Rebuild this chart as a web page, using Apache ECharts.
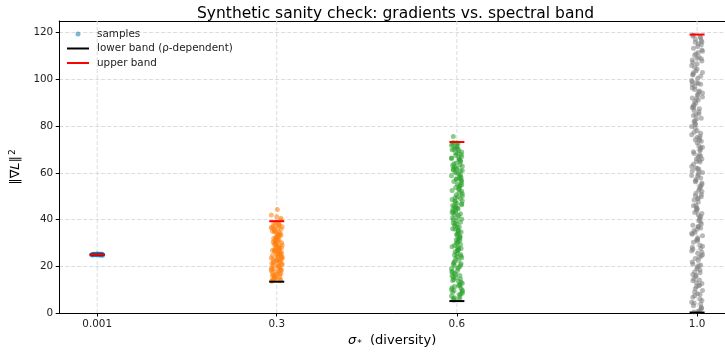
<!DOCTYPE html>
<html>
<head>
<meta charset="utf-8">
<script src="https://cdn.jsdelivr.net/npm/echarts@6/dist/echarts.min.js"></script>
<style>html,body{margin:0;padding:0;background:#fff;}#c{width:725px;height:353px;}</style>
</head>
<body>
<div id="c"></div>
<script>
// ---- data ----
const sigmas = [0.001, 0.3, 0.6, 1.0];
const xTickLabels = ['0.001', '0.3', '0.6', '1.0'];
const yTicks = [0, 20, 40, 60, 80, 100, 120];
const lowerBand = [25.0, 13.4, 5.1, 0.2];
const upperBand = [25.0, 39.3, 73.2, 119.2];

const samples001 = [25.1, 24.9, 25.0, 25.2, 24.8, 25.0, 25.1, 24.9, 25.3, 24.7,
  25.0, 25.2, 24.9, 25.1, 24.8, 25.0, 25.2, 24.9, 25.0, 25.1,
  24.8, 25.1, 25.0, 24.9, 25.2];

const samples03 = [14.2, 37.5, 22.8, 30.1, 18.6, 26.4, 33.9, 15.7, 28.3, 21.0,
  35.2, 19.4, 24.7, 31.6, 16.9, 38.6, 27.2, 23.5, 13.8, 29.9,
  34.5, 20.3, 25.8, 17.5, 32.7, 36.4, 22.1, 28.9, 14.9, 39.8,
  26.9, 19.9, 31.0, 24.0, 16.2, 33.1, 21.7, 37.0, 27.8, 18.1,
  30.6, 23.0, 35.9, 15.2, 25.3, 29.4, 20.8, 34.0, 17.0, 38.1,
  26.1, 32.2, 22.4, 13.6, 28.5, 36.9, 19.0, 24.4, 30.9, 40.6,
  16.5, 27.5, 21.4, 33.6, 25.0, 42.0, 18.8, 35.6, 23.9, 44.3,
  14.6, 31.3, 15.9, 29.1, 21.9, 36.1, 18.3, 26.7, 32.4, 13.9,
  24.9, 38.9, 20.0, 30.4, 16.7, 27.9, 34.8, 22.6, 19.2, 37.8,
  25.6, 31.9, 14.4, 28.0, 23.3, 35.0, 17.8, 41.2, 26.3, 33.3,
  21.2, 15.5, 29.6, 24.1, 37.2, 18.4, 32.9, 27.0, 20.6, 36.6,
  22.9, 30.0];

const samples06 = [6.2, 52.8, 31.4, 68.9, 17.3, 44.6, 59.1, 24.8, 71.5, 9.7,
  38.2, 63.4, 13.9, 49.7, 27.6, 56.3, 35.0, 66.1, 20.4, 42.9,
  7.8, 61.2, 46.3, 29.9, 70.2, 15.8, 54.5, 33.7, 11.3, 58.0,
  40.8, 22.6, 67.4, 48.1, 5.6, 36.5, 64.7, 26.2, 51.4, 18.9,
  72.6, 43.5, 10.5, 57.2, 31.0, 62.5, 23.7, 47.0, 8.9, 69.5,
  38.9, 16.6, 55.1, 28.4, 65.8, 12.7, 45.5, 34.3, 60.4, 21.1,
  50.6, 6.9, 73.0, 41.7, 25.5, 58.8, 14.6, 37.3, 67.0, 30.2,
  53.7, 19.7, 44.1, 9.2, 63.9, 27.1, 49.0, 35.8, 71.0, 17.9,
  56.9, 39.5, 11.9, 61.7, 32.6, 46.8, 22.0, 68.3, 7.3, 54.0,
  26.9, 42.2, 65.2, 15.1, 50.1, 36.1, 59.6, 24.1, 70.7, 13.2,
  48.6, 33.0, 62.0, 19.2, 75.6, 40.2, 57.7, 28.9, 45.0, 10.1,
  8.1, 43.8, 66.7, 21.6, 55.8, 33.4, 72.1, 12.2, 47.6, 61.0,
  28.0, 39.9, 5.9, 64.2, 52.1, 17.0, 35.4, 69.9, 25.0, 44.9,
  58.4, 10.8, 31.7, 67.8, 49.3, 20.9, 62.8, 37.9, 14.3, 53.2,
  71.8, 29.3, 41.0, 6.5, 56.5, 23.3, 65.6, 46.0, 16.1, 59.9,
  34.7, 9.6, 68.6, 51.0, 26.6, 43.0, 13.6, 60.9, 38.5, 72.9,
  20.1, 54.8, 30.6, 66.4, 11.6, 47.9, 24.4, 57.5, 36.8, 63.1,
  18.2, 42.5, 70.1, 27.8, 52.4, 8.5, 45.8, 32.1, 61.6, 15.4];

const samples10 = [3.1, 87.4, 45.2, 112.6, 21.8, 66.9, 101.3, 34.5, 78.0, 9.6,
  56.2, 118.4, 27.3, 93.1, 49.8, 14.7, 71.6, 105.9, 38.8, 62.0,
  0.9, 84.5, 116.0, 31.2, 59.3, 97.7, 18.4, 75.1, 43.0, 108.8,
  6.7, 52.6, 89.9, 24.9, 68.3, 114.1, 36.4, 80.6, 12.0, 99.5,
  47.5, 63.7, 1.8, 91.8, 29.0, 110.3, 55.0, 72.9, 16.5, 85.2,
  41.3, 103.6, 8.2, 60.8, 95.0, 33.1, 77.4, 22.6, 117.2, 50.7,
  11.3, 69.5, 88.7, 39.6, 106.7, 4.6, 57.8, 82.3, 26.0, 100.4,
  46.1, 65.4, 13.8, 92.5, 35.3, 111.5, 53.9, 74.2, 19.7, 96.3,
  2.5, 43.9, 86.1, 30.3, 64.6, 107.9, 7.4, 58.5, 79.8, 23.9,
  115.3, 48.4, 70.7, 15.6, 94.2, 37.6, 61.5, 104.5, 10.4, 83.4,
  28.1, 54.4, 98.6, 42.1, 119.0, 5.3, 67.6, 90.6, 32.2, 76.3,
  20.5, 51.3, 109.6, 0.4, 73.5, 44.7, 102.2, 17.2, 81.1, 60.1,
  25.6, 113.3, 40.4, 66.0, 12.6, 97.0, 36.9, 88.0, 3.9, 57.1,
  7.9, 92.0, 49.1, 114.8, 23.3, 69.0, 103.0, 35.9, 81.9, 11.7,
  58.9, 117.8, 30.8, 95.7, 52.0, 16.0, 73.8, 107.2, 40.9, 64.9,
  2.0, 86.7, 111.0, 28.6, 61.9, 99.0, 20.2, 77.0, 45.9, 109.1,
  9.0, 55.7, 91.2, 26.5, 70.0, 115.9, 38.1, 83.0, 14.1, 101.9,
  48.9, 67.2, 4.3, 94.6, 33.7, 112.0, 56.6, 75.7, 18.9, 87.9,
  42.6, 105.2, 0.7, 62.7, 97.9, 31.7, 79.2, 24.4, 118.6, 53.2,
  13.0, 71.0, 89.2, 37.0, 108.3, 6.0, 60.4, 84.9, 27.6, 102.8,
  44.3, 65.9, 17.7, 93.6, 34.0, 116.6, 50.2, 74.8, 21.0, 98.2];

// horizontal jitter of each sample around its sigma
const jitter = [-0.006, 0.004, -0.001, 0.008, -0.008, 0.002, 0.006, -0.004, 0.000, 0.009,
  -0.003, 0.005, -0.007, 0.001, 0.007, -0.005, 0.003, -0.009, 0.006, -0.002,
  0.004, -0.006, 0.008, -0.001, 0.002, -0.008, 0.005, 0.000, -0.004, 0.007,
  -0.007, 0.003, -0.002, 0.009, -0.005, 0.001, 0.006, -0.003, 0.004, -0.009,
  0.002, -0.006, 0.007, -0.001, 0.005, -0.004, 0.008, 0.000, -0.007, 0.003,
  0.006, -0.002, 0.001, -0.008, 0.004, 0.009, -0.005, 0.002, -0.003, 0.007,
  -0.001, 0.005, -0.006, 0.003, 0.000, -0.009, 0.006, -0.004, 0.008, 0.001,
  -0.002, 0.004, -0.007, 0.009, -0.005, 0.002, 0.006, -0.003, 0.000, -0.008,
  0.007, -0.001, 0.003, -0.006, 0.005, 0.008, -0.004, 0.001, -0.009, 0.004,
  0.002, -0.005, 0.006, -0.002, 0.009, -0.007, 0.003, 0.000, -0.003, 0.007,
  -0.008, 0.005, -0.001, 0.002, -0.006, 0.008, 0.004, -0.004, 0.001, -0.009,
  0.006, -0.002, 0.003, -0.005, 0.007, 0.000, -0.007, 0.005, -0.003, 0.009,
  0.001, -0.006, 0.004, -0.001, 0.008, -0.004, 0.002, -0.008, 0.006, -0.002,
  0.005, -0.008, 0.002, 0.007, -0.003, -0.006, 0.009, 0.000, -0.005, 0.003,
  -0.009, 0.006, 0.001, -0.004, 0.008, -0.002, 0.004, -0.007, 0.005, -0.001,
  0.007, -0.005, -0.002, 0.009, 0.001, -0.008, 0.003, 0.006, -0.006, 0.000,
  -0.004, 0.008, 0.002, -0.009, 0.005, -0.003, 0.007, -0.001, 0.004, -0.007,
  0.001, 0.006, -0.005, 0.003, -0.008, 0.009, -0.002, 0.005, 0.000, -0.006,
  0.008, -0.004, 0.002, -0.009, 0.006, 0.001, -0.003, 0.007, -0.007, 0.004,
  -0.001, 0.009, -0.005, 0.002, -0.008, 0.005, 0.003, -0.002, 0.006, -0.006,
  0.000, 0.008, -0.004, 0.001, -0.009, 0.007, -0.003, 0.004, -0.007, 0.002];

const sampleGroups = [samples001, samples03, samples06, samples10];
const groupColors = ['#1f77b4', '#ff7f0e', '#2ca02c', '#7f7f7f'];

// ---- chart ----
const FONT = 'DejaVu Sans';
const xMin = -0.0622, xMax = 1.0465, yMin = 0, yMax = 125;
const bandHalf = 0.0125;
const gridLine = { color: '#dcdcdc', width: 1, type: [4, 2] };

const series = [];
// vertical grid lines at the x ticks
sigmas.forEach(s => {
  series.push({
    type: 'line', silent: true, z: 0, symbol: 'none',
    lineStyle: gridLine, itemStyle: { color: gridLine.color },
    data: [[s, yMin], [s, yMax]]
  });
});
sampleGroups.forEach((ys, g) => {
  series.push({
    type: 'scatter', name: 'samples', z: 2,
    symbolSize: 5,
    itemStyle: { color: groupColors[g], opacity: 0.55 },
    data: ys.map((y, i) => [sigmas[g] + jitter[i], y])
  });
});
sigmas.forEach((s, g) => {
  series.push({
    type: 'line', name: 'lower band (ρ-dependent)', z: 3, symbol: 'none',
    lineStyle: { color: '#000', width: 2 }, itemStyle: { color: '#000' },
    data: [[s - bandHalf, lowerBand[g]], [s + bandHalf, lowerBand[g]]]
  });
});
sigmas.forEach((s, g) => {
  series.push({
    type: 'line', name: 'upper band', z: 4, symbol: 'none',
    lineStyle: { color: '#ff0000', width: 2 }, itemStyle: { color: '#ff0000' },
    data: [[s - bandHalf, upperBand[g]], [s + bandHalf, upperBand[g]]]
  });
});

const legendText = { fontFamily: FONT, fontSize: 10.4, color: '#222', padding: [0, 0, 0, 3] };
const chart = echarts.init(document.getElementById('c'), null, { renderer: 'canvas' });
chart.setOption({
  animation: false,
  backgroundColor: '#fff',
  textStyle: { fontFamily: FONT },
  title: {
    text: 'Synthetic sanity check: gradients vs. spectral band',
    left: 192, top: 1, textAlign: 'left',
    textStyle: { fontFamily: FONT, fontSize: 15.5, fontWeight: 'normal', color: '#000' }
  },
  legend: [
    {
      data: [{ name: 'samples', icon: 'circle' }],
      left: 75.5, top: 29, orient: 'vertical',
      itemWidth: 5, itemHeight: 5, padding: 0,
      textStyle: { fontFamily: FONT, fontSize: 10.4, color: '#222', padding: [0, 0, 0, 11.5] },
      selectedMode: false
    },
    {
      data: [{ name: 'lower band (ρ-dependent)', icon: 'rect' }],
      left: 67, top: 43.5, orient: 'vertical', symbolKeepAspect: false,
      itemWidth: 22, itemHeight: 2, padding: 0,
      textStyle: legendText, selectedMode: false
    },
    {
      data: [{ name: 'upper band', icon: 'rect' }],
      left: 67, top: 58, orient: 'vertical', symbolKeepAspect: false,
      itemWidth: 22, itemHeight: 2, padding: 0,
      textStyle: legendText, selectedMode: false
    }
  ],
  grid: { left: 58, top: 21, right: 0, height: 293 },
  xAxis: [{
    type: 'value', min: xMin, max: xMax,
    name: '{s|σ}{st|*}{n|  (diversity)}',
    nameLocation: 'middle', nameGap: 20,
    nameTextStyle: {
      rich: {
        s: { fontFamily: FONT, fontSize: 13, fontStyle: 'italic', color: '#000' },
        st: { fontFamily: FONT, fontSize: 9, color: '#000', padding: [6, 0, 0, 1] },
        n: { fontFamily: FONT, fontSize: 13, color: '#000' }
      }
    },
    axisLine: { show: true, onZero: false, lineStyle: { color: '#000', width: 1 } },
    axisTick: { show: true, length: 3.5, customValues: sigmas, lineStyle: { color: '#000' } },
    axisLabel: {
      customValues: sigmas, margin: 6,
      fontFamily: FONT, fontSize: 10.4, color: '#222',
      formatter: v => {
        const i = sigmas.findIndex(s => Math.abs(s - v) < 1e-9);
        return i >= 0 ? xTickLabels[i] : '';
      }
    },
    splitLine: { show: false }
  }, {
    type: 'value', min: xMin, max: xMax, position: 'top',
    axisLine: { show: true, onZero: false, lineStyle: { color: '#000', width: 1 } },
    axisTick: { show: false }, axisLabel: { show: false }, splitLine: { show: false }
  }],
  yAxis: {
    type: 'value', min: yMin, max: yMax, interval: 20, position: 'left',
    name: '{n|‖∇}{i|L}{n|‖}{sup|2}',
    nameLocation: 'middle', nameGap: 34, nameRotate: 90,
    nameTextStyle: {
      rich: {
        n: { fontFamily: FONT, fontSize: 13, color: '#000' },
        i: { fontFamily: FONT, fontSize: 13, fontStyle: 'italic', color: '#000' },
        sup: { fontFamily: FONT, fontSize: 9, color: '#000', padding: [0, 0, 7, 1] }
      }
    },
    axisLine: { show: true, onZero: false, lineStyle: { color: '#000', width: 1 } },
    axisTick: { show: true, length: 3.5, customValues: yTicks, lineStyle: { color: '#000' } },
    axisLabel: { customValues: yTicks, margin: 6, fontFamily: FONT, fontSize: 10.4, color: '#222' },
    splitLine: { show: true, lineStyle: gridLine }
  },
  series: series
});
</script>
</body>
</html>
